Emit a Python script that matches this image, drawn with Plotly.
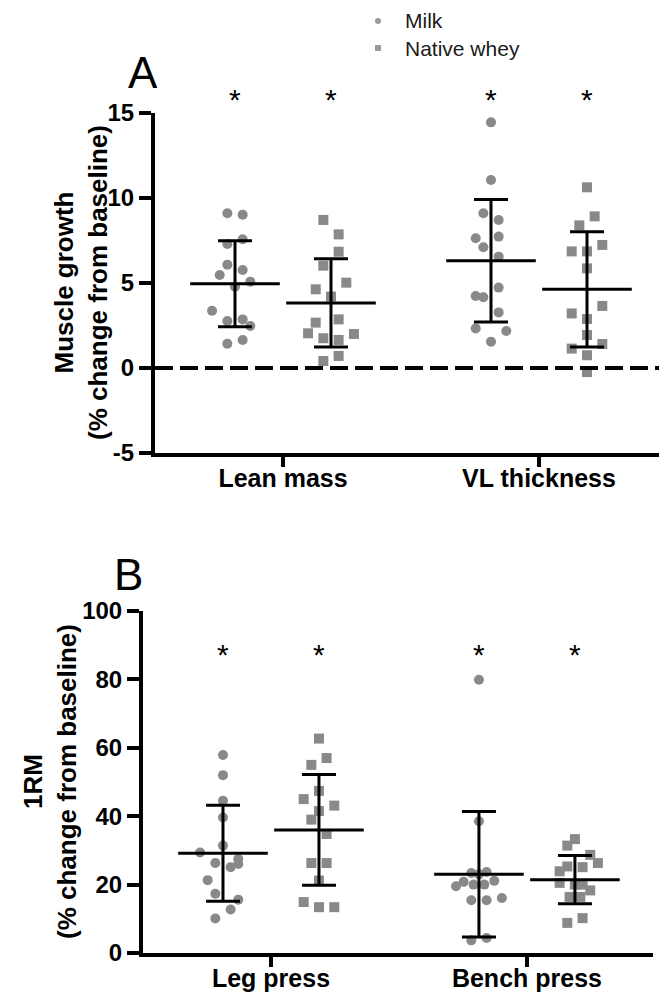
import plotly.graph_objects as go

# The page body has an 8 px default margin, so the figure is sized to fill the
# remaining viewport and all screen-pixel targets are converted accordingly.
VIEW_W, VIEW_H = 667, 998
BODY = 8
FW, FH = VIEW_W - BODY, VIEW_H - BODY

# ---------------- data ----------------
categories_a = ["Lean mass", "VL thickness"]
categories_b = ["Leg press", "Bench press"]
series_names = ["Milk", "Native whey"]

# Panel A: muscle growth (% change from baseline)
lean_milk = [9.10, 9.02, 7.57, 7.29, 6.08, 5.76, 5.47, 5.08, 4.78, 3.37, 2.76, 2.86, 2.47, 1.43, 1.65]
lean_whey = [8.71, 7.86, 6.84, 6.02, 5.02, 4.63, 4.20, 2.67, 2.86, 2.04, 2.00, 1.75, 1.65, 0.41, 0.71]
vl_milk = [14.45, 11.06, 9.10, 8.71, 7.63, 7.73, 7.10, 6.55, 4.73, 4.24, 4.16, 3.27, 2.33, 2.18, 1.55]
vl_whey = [10.63, 8.92, 8.39, 7.24, 6.86, 6.86, 5.86, 3.65, 3.21, 2.88, 1.94, 1.41, 1.14, 0.75, -0.24]
mean_a_milk = [4.96, 6.31]
sd_a_milk = [2.53, 3.60]
mean_a_whey = [3.83, 4.63]
sd_a_whey = [2.60, 3.39]

# Panel B: 1RM (% change from baseline)
leg_milk = [57.9, 52.0, 44.5, 39.6, 31.4, 29.4, 27.5, 26.3, 26.0, 25.1, 21.3, 17.3, 15.6, 12.7, 10.1]
leg_whey = [62.7, 57.0, 55.0, 47.4, 45.0, 43.1, 41.5, 39.0, 34.8, 26.3, 26.3, 21.2, 14.9, 13.4, 13.4]
bench_milk = [79.9, 38.5, 23.4, 23.7, 20.8, 19.5, 20.0, 20.0, 21.1, 15.4, 15.4, 16.1, 3.7, 4.4, 23.0]
bench_whey = [33.3, 31.4, 28.7, 26.3, 25.3, 25.1, 23.9, 20.5, 20.0, 20.0, 18.3, 16.4, 16.4, 10.2, 8.8]
mean_b_milk = [29.15, 23.05]
sd_b_milk = [14.05, 18.35]
mean_b_whey = [36.0, 21.45]
sd_b_whey = [16.2, 7.05]

ticks_a = [-5, 0, 5, 10, 15]
ticks_b = [0, 20, 40, 60, 80, 100]

# ---------------- layout helpers (positions, not data) ----------------
# scatter jitter steps for each point (column spread)
lean_milk_j = [-1, 1, 1, -1, -1, 1, -2, 2, 0, -3, -1, 1, 2, -1, 1]
lean_whey_j = [-1, 1, 1, -1, 2, -2, 0, -2, 1, -3, 3, -1, 1, -1, 1]
vl_milk_j = [0, 0, -1, 1, -2, 1, -1, 1, 1, -2, -1, 1, -2, 2, 0]
vl_whey_j = [0, 1, -1, 2, -2, 0, 0, 2, -2, 0, 0, 2, -2, 0, 0]
leg_milk_j = [0, 0, 0, 0, 0, -3, 2, -1, 2, 1, -2, -1, 2, 1, -1]
leg_whey_j = [0, 1, -1, 0, -2, 2, 0, -1, 1, -1, 1, 0, -2, 0, 2]
bench_milk_j = [0, 0, -1, 1, -2, -3, -0.7, 0.7, 2, -1, 1, 3, -1, 1, 0]
bench_whey_j = [0, -1, 2, 3, -1, 1, -2, -2, 0, 1, 2, -0.7, 0.7, 1, -1]

STEP = 0.239          # jitter step in x units (32 px per unit)
CAT_POS = [4, 12]     # category centres in x units
OFF = 1.5             # milk / whey offset from category centre

GREY = "#898989"
FONT = "Liberation Sans, Arial, sans-serif"

# legend key placement (screen px)
LEG_KEY_X = 378
LEG_TEXT_X = 403
LEG_ROWS_Y = [21, 48]
LEG_SYMBOLS = ["circle", "square"]


def px_x(p):
    return (p - BODY) / FW


def px_y(p):
    return 1 - (p - BODY) / FH


fig = go.Figure()


def add_points(vals, jit, centre, symbol, xa, ya, name):
    fig.add_trace(go.Scatter(
        x=[centre + STEP * j for j in jit], y=vals, mode="markers", name=name,
        marker=dict(symbol=symbol, size=10, color=GREY, line=dict(width=0)),
        xaxis=xa, yaxis=ya, showlegend=False, hoverinfo="y+name"))


def add_summary(means, sds, positions, xa, ya):
    fig.add_trace(go.Scatter(
        x=positions, y=means, mode="markers",
        marker=dict(symbol="line-ew", size=64, color="black",
                    line=dict(width=3, color="black")),
        error_y=dict(type="data", array=sds, visible=True, thickness=3,
                     width=17, color="black"),
        xaxis=xa, yaxis=ya, showlegend=False, hoverinfo="y"))


# Panel A
add_points(lean_milk, lean_milk_j, CAT_POS[0] - OFF, "circle", "x", "y", series_names[0])
add_points(lean_whey, lean_whey_j, CAT_POS[0] + OFF, "square", "x", "y", series_names[1])
add_points(vl_milk, vl_milk_j, CAT_POS[1] - OFF, "circle", "x", "y", series_names[0])
add_points(vl_whey, vl_whey_j, CAT_POS[1] + OFF, "square", "x", "y", series_names[1])
# dashed zero line
fig.add_trace(go.Scatter(x=[0, 16], y=[0, 0], mode="lines",
                         line=dict(color="black", width=4, dash="18px,7px"),
                         xaxis="x", yaxis="y", showlegend=False, hoverinfo="skip"))
add_summary(mean_a_milk, sd_a_milk, [c - OFF for c in CAT_POS], "x", "y")
add_summary(mean_a_whey, sd_a_whey, [c + OFF for c in CAT_POS], "x", "y")

# Panel B
add_points(leg_milk, leg_milk_j, CAT_POS[0] - OFF, "circle", "x2", "y2", series_names[0])
add_points(leg_whey, leg_whey_j, CAT_POS[0] + OFF, "square", "x2", "y2", series_names[1])
add_points(bench_milk, bench_milk_j, CAT_POS[1] - OFF, "circle", "x2", "y2", series_names[0])
add_points(bench_whey, bench_whey_j, CAT_POS[1] + OFF, "square", "x2", "y2", series_names[1])
add_summary(mean_b_milk, sd_b_milk, [c - OFF for c in CAT_POS], "x2", "y2")
add_summary(mean_b_whey, sd_b_whey, [c + OFF for c in CAT_POS], "x2", "y2")

# legend keys on a hidden full-page axis pair measured in screen pixels
fig.add_trace(go.Scatter(x=[LEG_KEY_X] * len(LEG_ROWS_Y), y=LEG_ROWS_Y, mode="markers",
                         marker=dict(symbol=LEG_SYMBOLS, size=6, color="#9a9a9a"),
                         xaxis="x3", yaxis="y3", showlegend=False, hoverinfo="skip"))

tickfont = dict(family=FONT, size=24, color="black", weight="bold")
catfont = dict(family=FONT, size=25, color="black", weight="bold")

axis_common = dict(showline=True, linewidth=4, linecolor="black", ticks="outside",
                   tickwidth=4, tickcolor="black", showgrid=False,
                   zeroline=False, automargin=False, fixedrange=True)

annotations = []
star_font = dict(family=FONT, size=30, color="black")
# significance stars
for pos in CAT_POS:
    for off in (-OFF, OFF):
        annotations.append(dict(x=pos + off, y=px_y(99), xref="x", yref="paper", text="*",
                                showarrow=False, yanchor="middle", font=star_font))
        annotations.append(dict(x=pos + off, y=px_y(654), xref="x2", yref="paper", text="*",
                                showarrow=False, yanchor="middle", font=star_font))

# legend texts
for name, yy in zip(series_names, LEG_ROWS_Y):
    annotations.append(dict(x=px_x(LEG_TEXT_X), y=px_y(yy), xref="paper", yref="paper",
                            text=name, showarrow=False, xanchor="left", yanchor="middle",
                            font=dict(family=FONT, size=21, color="#1a1a1a")))

# panel letters
annotations.append(dict(x=px_x(143), y=px_y(73), xref="paper", yref="paper", text="A",
                        showarrow=False, xanchor="center", yanchor="middle",
                        font=dict(family=FONT, size=44, color="black")))
annotations.append(dict(x=px_x(128), y=px_y(574), xref="paper", yref="paper", text="B",
                        showarrow=False, xanchor="center", yanchor="middle",
                        font=dict(family=FONT, size=44, color="black")))

# y-axis titles
annotations.append(dict(x=px_x(81), y=px_y(283), xref="paper", yref="paper",
                        text="Muscle growth<br>(% change from baseline)", textangle=-90,
                        showarrow=False, xanchor="center", yanchor="middle",
                        font=dict(family=FONT, size=26, color="black", weight="bold")))
annotations.append(dict(x=px_x(50), y=px_y(782), xref="paper", yref="paper",
                        text="1RM<br>(% change from baseline)", textangle=-90,
                        showarrow=False, xanchor="center", yanchor="middle",
                        font=dict(family=FONT, size=26, color="black", weight="bold")))

fig.update_layout(
    width=FW, height=FH,
    margin=dict(l=0, r=0, t=0, b=0),
    paper_bgcolor="white", plot_bgcolor="rgba(0,0,0,0)",
    showlegend=False,
    xaxis=dict(domain=[px_x(155), 1.0], range=[0, 16], tickvals=CAT_POS,
               ticktext=categories_a, tickfont=catfont, anchor="y", ticklen=10,
               ticklabelstandoff=-10, **axis_common),
    yaxis=dict(domain=[px_y(453), px_y(113)], range=[-5, 15], tickvals=ticks_a,
               ticktext=[str(t) for t in ticks_a],
               tickfont=tickfont, anchor="x", ticklen=12, **axis_common),
    xaxis2=dict(domain=[px_x(143), px_x(653)], range=[0, 15.94], tickvals=CAT_POS,
                ticktext=categories_b, tickfont=catfont, anchor="y2", ticklen=10,
                ticklabelstandoff=-10, **axis_common),
    yaxis2=dict(domain=[px_y(953), px_y(611)], range=[0, 100], tickvals=ticks_b,
                ticktext=[str(t) for t in ticks_b],
                tickfont=tickfont, anchor="x2", ticklen=12, **axis_common),
    xaxis3=dict(domain=[0, 1], range=[BODY, VIEW_W], visible=False, anchor="y3",
                fixedrange=True),
    yaxis3=dict(domain=[0, 1], range=[VIEW_H, BODY], visible=False, anchor="x3",
                fixedrange=True),
    annotations=annotations,
)

fig.write_html("out.html")
